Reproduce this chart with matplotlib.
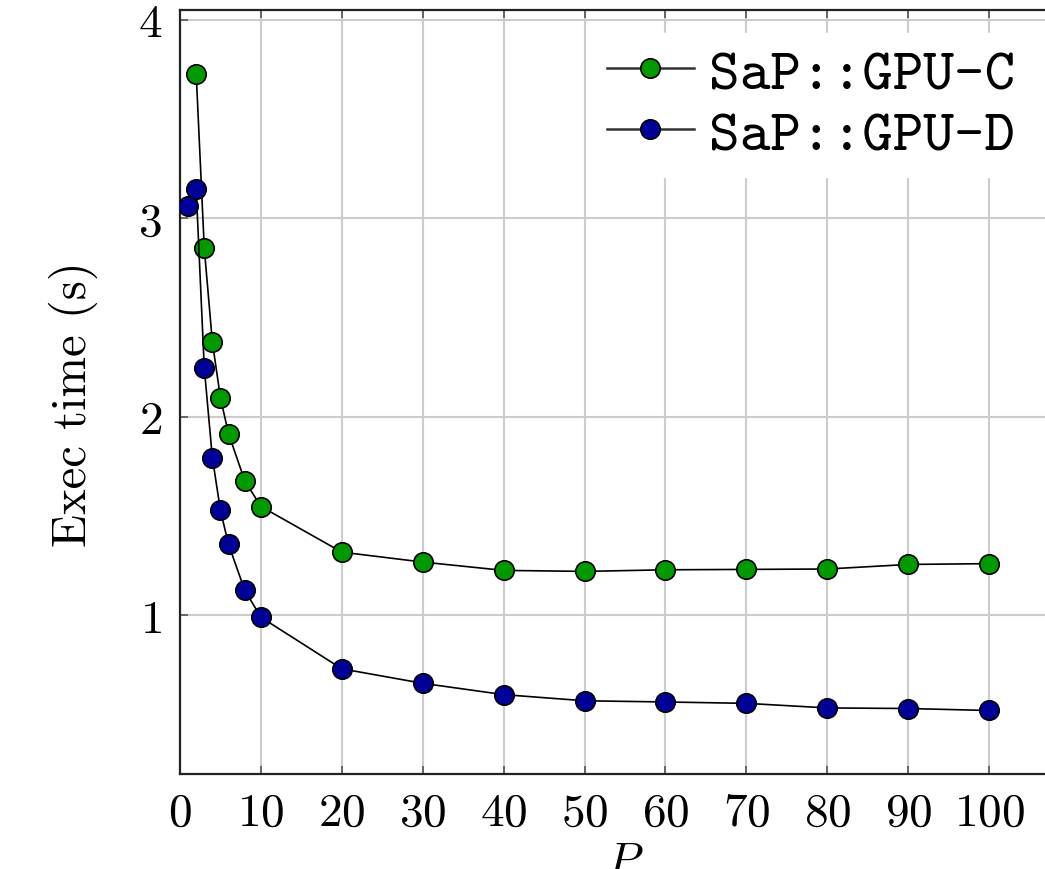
import numpy as np
import matplotlib
matplotlib.use("Agg")
import matplotlib.pyplot as plt
from matplotlib.font_manager import FontProperties

plt.rcParams["font.family"] = "serif"
plt.rcParams["font.serif"] = ["cmr10"]
plt.rcParams["mathtext.fontset"] = "cm"
plt.rcParams["axes.formatter.use_mathtext"] = True

# data
p_c = [2, 3, 4, 5, 6, 8, 10, 20, 30, 40, 50, 60, 70, 80, 90, 100]
time_c = [3.73, 2.85, 2.377, 2.095, 1.915, 1.678, 1.548, 1.318, 1.268, 1.226,
          1.221, 1.229, 1.231, 1.233, 1.256, 1.26]
p_d = [1, 2, 3, 4, 5, 6, 8, 10, 20, 30, 40, 50, 60, 70, 80, 90, 100]
time_d = [3.06, 3.146, 2.246, 1.794, 1.528, 1.357, 1.126, 0.99, 0.73, 0.657,
          0.6, 0.569, 0.563, 0.556, 0.533, 0.53, 0.52]
labels = ["SaP::GPU-C", "SaP::GPU-D"]
xticks = list(range(0, 101, 10))
yticks = [1, 2, 3, 4]

fig = plt.figure(figsize=(10.45, 8.7), dpi=100)
ax = fig.add_axes([180 / 1045, 95 / 870, 890 / 1045, 764 / 870])

ax.plot(p_c, time_c, color="black", lw=1.2, marker="o", ms=14,
        mfc="#009900", mec="black", mew=1.2, label=labels[0], zorder=3)
ax.plot(p_d, time_d, color="black", lw=1.2, marker="o", ms=14,
        mfc="#000099", mec="black", mew=1.2, label=labels[1], zorder=3)

ax.set_xlim(0, 110)
ax.set_ylim(0.2, 4.05)
ax.set_xticks(xticks)
ax.set_yticks(yticks)
ax.grid(True, color="#cccccc", lw=1.5)
ax.set_axisbelow(True)
ax.tick_params(direction="in", length=6, width=1.2, color="#555555",
               top=True, right=True, labelsize=34)
ax.tick_params(axis="x", pad=13)
ax.tick_params(axis="y", pad=13)
for s in ax.spines.values():
    s.set_linewidth(1.6)
    s.set_color("#222222")

ax.set_ylabel("Exec time (s)", fontsize=35)
ax.yaxis.set_label_coords(-0.092, 0.485)
ax.set_xlabel("$P$", fontsize=34, labelpad=5)

leg = ax.legend(loc="upper left", bbox_to_anchor=(592 / 1045, 1 - 34 / 870),
                bbox_transform=fig.transFigure,
                prop=FontProperties(family="cmtt10", size=42),
                frameon=True, fancybox=False, edgecolor="white",
                framealpha=1, handlelength=1.5, handletextpad=0.25,
                labelspacing=0.12, borderpad=0.25, borderaxespad=0)
for h in leg.get_lines():
    h.set_linewidth(1.8)
    h.set_color("#333333")

fig.savefig("out.png", dpi=100)
